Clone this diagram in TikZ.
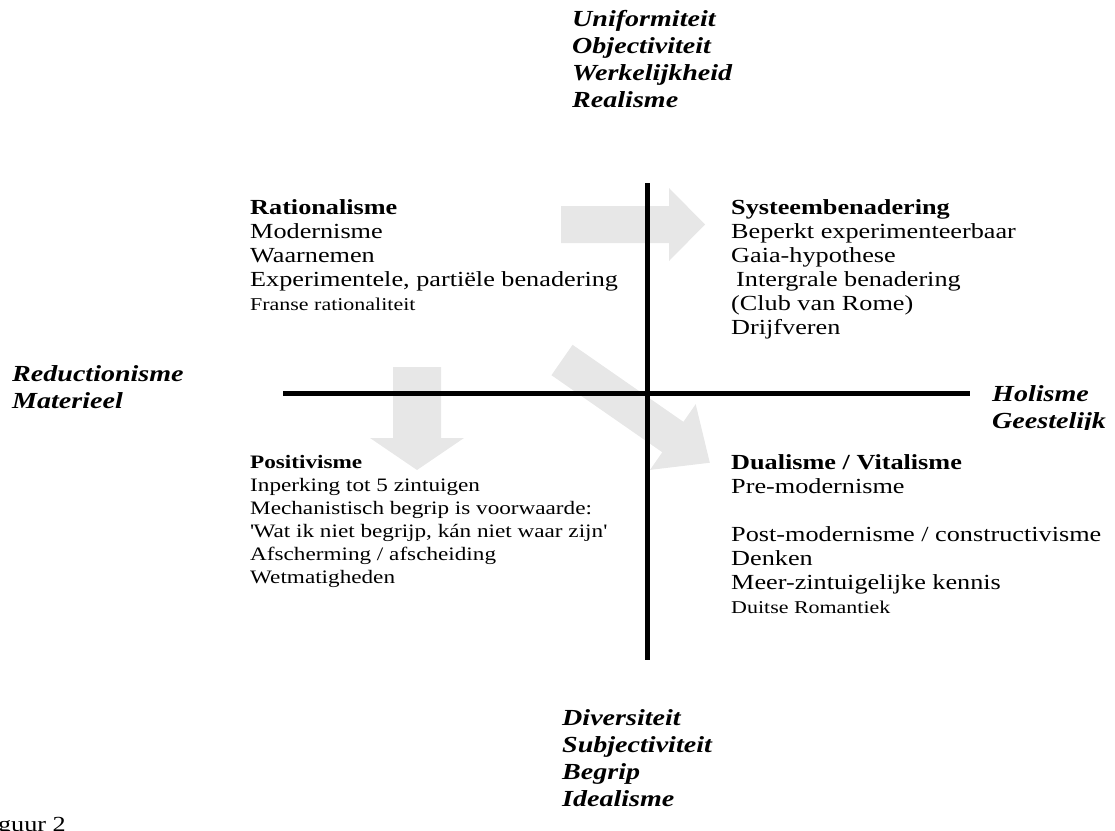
\documentclass[tikz,border=0pt]{standalone}
\usepackage{fontspec}
\setmainfont[FakeStretch=1.22]{Liberation Serif}
\definecolor{pijlgrijs}{RGB}{231,231,231}

\begin{document}
\begin{tikzpicture}[x=1pt, y=-1pt,
  blok/.style={anchor=north west, inner sep=0pt, align=left, font=\fontsize{21.5}{24}\selectfont},
  as/.style={anchor=north west, inner sep=0pt, align=left, font=\fontsize{23}{27}\selectfont\bfseries\itshape}]
\useasboundingbox (0,0) rectangle (1115,830);
% grijze pijlen
\fill[pijlgrijs] (561,206)--(669,206)--(669,188)--(705,224.5)--(669,261)--(669,243)--(561,243)--cycle;
\fill[pijlgrijs] (393,367)--(441,367)--(441,438)--(464,438)--(417,470)--(370,438)--(393,438)--cycle;
\fill[pijlgrijs, shift={(562,360)}, rotate=-34.8] (0,-18.5)--(135,-18.5)--(135,-40)--(180,0)--(135,40)--(135,18.5)--(0,18.5)--cycle;

% assen
\coordinate (boven) at (647,183);
\coordinate (onder) at (647,660);
\coordinate (links) at (283,393);
\coordinate (rechts) at (970,393);
\draw[line width=5pt] (boven)--(onder);
\draw[line width=5pt] (links)--(rechts);

\node[as] (uniform) at (572,10) {Uniformiteit\\Objectiviteit\\Werkelijkheid\\Realisme};
\node[blok] (ratio) at (250,199) {\textbf{Rationalisme}\\Modernisme\\Waarnemen\\Experimentele, partiële benadering\\{\fontsize{18}{24}\selectfont Franse rationaliteit}};
\node[blok] (systeem) at (731,199) {\textbf{Systeembenadering}\\Beperkt experimenteerbaar\\Gaia-hypothese\\\hspace{5pt}Intergrale benadering\\(Club van Rome)\\Drijfveren};
\node[as] (reduct) at (12,365) {Reductionisme\\Materieel};
\node[as] (holisme) at (992,385) {Holisme};
\begin{scope}
\clip (980,400) rectangle (1115,429);
\node[as] (geest) at (992,412) {Geestelijk};
\end{scope}
\node[blok, font=\fontsize{19}{23}\selectfont] (posit) at (250,455) {\textbf{Positivisme}\\Inperking tot 5 zintuigen\\Mechanistisch begrip is voorwaarde:\\\textquotesingle Wat ik niet begrijp, kán niet waar zijn\textquotesingle\\Afscherming / afscheiding\\Wetmatigheden};
\node[blok] (dual) at (731,454) {\textbf{Dualisme / Vitalisme}\\Pre-modernisme\\[24pt]Post-modernisme / constructivisme\\Denken\\Meer-zintuigelijke kennis\\{\fontsize{18}{24}\selectfont Duitse Romantiek}};
\node[as] (divers) at (562,709) {Diversiteit\\Subjectiviteit\\Begrip\\Idealisme};
\node[blok] (fig) at (-24,817) {Figuur 2};

\end{tikzpicture}
\end{document}
